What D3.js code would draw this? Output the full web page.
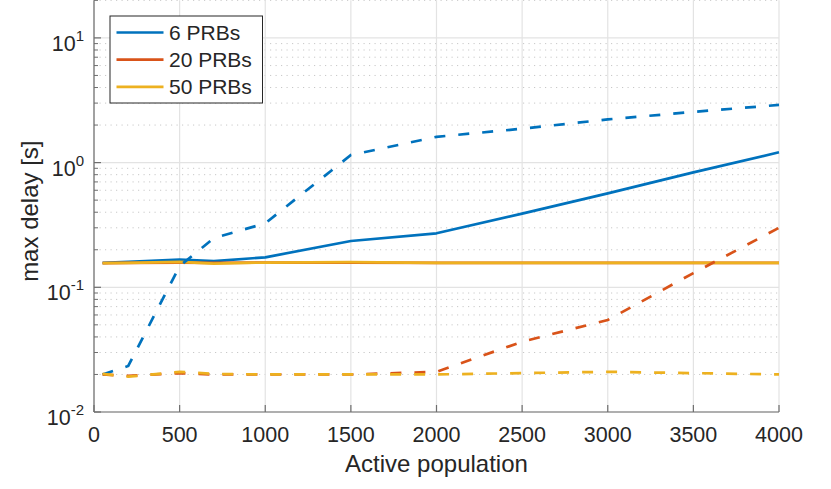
<!DOCTYPE html>
<html><head><meta charset="utf-8">
<script src="https://cdn.jsdelivr.net/npm/d3@7/dist/d3.min.js"></script>
<style>body{margin:0;background:#fff}svg{display:block}text{font-family:"Liberation Sans",Arial,sans-serif;fill:#262626}</style>
</head><body><svg id="c" width="831" height="489"></svg>
<script>
const population = [50, 200, 500, 700, 1000, 1500, 2000, 2500, 3000, 3500, 4000];
const seriesNames = ["6 PRBs", "20 PRBs", "50 PRBs"];
const solid6  = [0.157, 0.160, 0.167, 0.162, 0.174, 0.235, 0.271, 0.390, 0.567, 0.835, 1.21];
const solid20 = [0.156, 0.157, 0.158, 0.157, 0.158, 0.158, 0.157, 0.157, 0.157, 0.157, 0.157];
const solid50 = [0.156, 0.157, 0.160, 0.155, 0.158, 0.159, 0.157, 0.157, 0.157, 0.157, 0.157];
const dashed6  = [0.0200, 0.0234, 0.148, 0.248, 0.326, 1.15, 1.61, 1.87, 2.22, 2.55, 2.90];
const dashed20 = [0.0200, 0.0195, 0.0205, 0.0200, 0.0200, 0.0200, 0.0210, 0.0366, 0.0547, 0.130, 0.300];
const dashed50 = [0.0202, 0.0192, 0.0210, 0.0202, 0.0200, 0.0200, 0.0200, 0.0205, 0.0210, 0.0205, 0.0200];
const xTicks = [0, 500, 1000, 1500, 2000, 2500, 3000, 3500, 4000];
const yDecades = [-2, -1, 0, 1];
const colors = ["#0072BD", "#D95319", "#EDB120"];

const svg = d3.select("#c");
const L = 94, R = 779, B = 412, dec = 124.7;
const x = d3.scaleLinear().domain([0, 4000]).range([L, R]);
const y = d3.scaleLog().domain([0.01, 20]).range([B, B - dec * Math.log10(2000)]);

// minor grid
const minors = [];
for (let e = -2; e <= 1; e++) for (let m = 2; m <= 9; m++) { const v = m * Math.pow(10, e); if (v <= 20) minors.push(v); }
const g = svg.append("g");
g.selectAll("line.mn").data(minors).enter().append("line")
  .attr("x1", L).attr("x2", R).attr("y1", d => y(d)).attr("y2", d => y(d))
  .attr("stroke", "#c8c8c8").attr("stroke-width", 1).attr("stroke-dasharray", "1.2,4.3");
g.selectAll("line.mj").data(yDecades).enter().append("line")
  .attr("x1", L).attr("x2", R).attr("y1", d => y(Math.pow(10, d))).attr("y2", d => y(Math.pow(10, d)))
  .attr("stroke", "#e3e3e3").attr("stroke-width", 1.2);
g.selectAll("line.vx").data(xTicks).enter().append("line")
  .attr("x1", d => x(d)).attr("x2", d => x(d)).attr("y1", y(20)).attr("y2", B)
  .attr("stroke", "#e3e3e3").attr("stroke-width", 1.2);

// axes
const ax = svg.append("g");
ax.append("line").attr("x1", L).attr("x2", L).attr("y1", y(20)).attr("y2", B).attr("stroke", "#6e6e6e").attr("stroke-width", 1.2);
ax.append("line").attr("x1", L).attr("x2", R).attr("y1", B).attr("y2", B).attr("stroke", "#6e6e6e").attr("stroke-width", 1.2);
ax.selectAll("line.xt").data(xTicks).enter().append("line")
  .attr("x1", d => x(d)).attr("x2", d => x(d)).attr("y1", B).attr("y2", B - 7).attr("stroke", "#6e6e6e").attr("stroke-width", 1.2);
ax.selectAll("line.yt").data(yDecades).enter().append("line")
  .attr("x1", L).attr("x2", L + 7).attr("y1", d => y(Math.pow(10, d))).attr("y2", d => y(Math.pow(10, d))).attr("stroke", "#6e6e6e").attr("stroke-width", 1.2);
ax.selectAll("line.ym").data(minors).enter().append("line")
  .attr("x1", L).attr("x2", L + 4).attr("y1", d => y(d)).attr("y2", d => y(d)).attr("stroke", "#6e6e6e").attr("stroke-width", 1);
ax.selectAll("text.xl").data(xTicks).enter().append("text")
  .attr("x", d => x(d)).attr("y", B + 30).attr("text-anchor", "middle").attr("font-size", 21.5).text(d => d);
const yl = ax.selectAll("text.yl").data(yDecades).enter().append("text")
  .attr("x", 84).attr("y", d => y(Math.pow(10, d)) + 13).attr("text-anchor", "end").attr("font-size", 21.5);
yl.append("tspan").text("10");
yl.append("tspan").attr("font-size", 15).attr("dy", -10).text(d => d);
ax.append("text").attr("x", (L + R) / 2).attr("y", 472).attr("text-anchor", "middle").attr("font-size", 24).text("Active population");
ax.append("text").attr("transform", `translate(38,${(y(20)+B)/2 + 5}) rotate(-90)`).attr("text-anchor", "middle").attr("font-size", 24).text("max delay [s]");

// lines
const line = d3.line().x((d, i) => x(population[i])).y(d => y(d));
const plotG = svg.append("g");
const solids = [solid6, solid20, solid50];
const dashes = [dashed6, dashed20, dashed50];
solids.forEach((s, i) => plotG.append("path").datum(s).attr("d", line).attr("fill", "none")
  .attr("stroke", colors[i]).attr("stroke-width", 2.7).attr("stroke-linejoin", "round"));
dashes.forEach((s, i) => plotG.append("path").datum(s).attr("d", line).attr("fill", "none")
  .attr("stroke", colors[i]).attr("stroke-width", 2.7).attr("stroke-dasharray", "11,13"));

// legend
const lg = svg.append("g");
lg.append("rect").attr("x", 110).attr("y", 16).attr("width", 152.5).attr("height", 87)
  .attr("fill", "#fff").attr("stroke", "#262626").attr("stroke-width", 1);
seriesNames.forEach((n, i) => {
  const yy = 32.5 + i * 27.2;
  lg.append("line").attr("x1", 116.5).attr("x2", 163.5).attr("y1", yy).attr("y2", yy).attr("stroke", colors[i]).attr("stroke-width", 2.7);
  lg.append("text").attr("x", 169).attr("y", yy + 7.2).attr("font-size", 21).text(n);
});
</script></body></html>
